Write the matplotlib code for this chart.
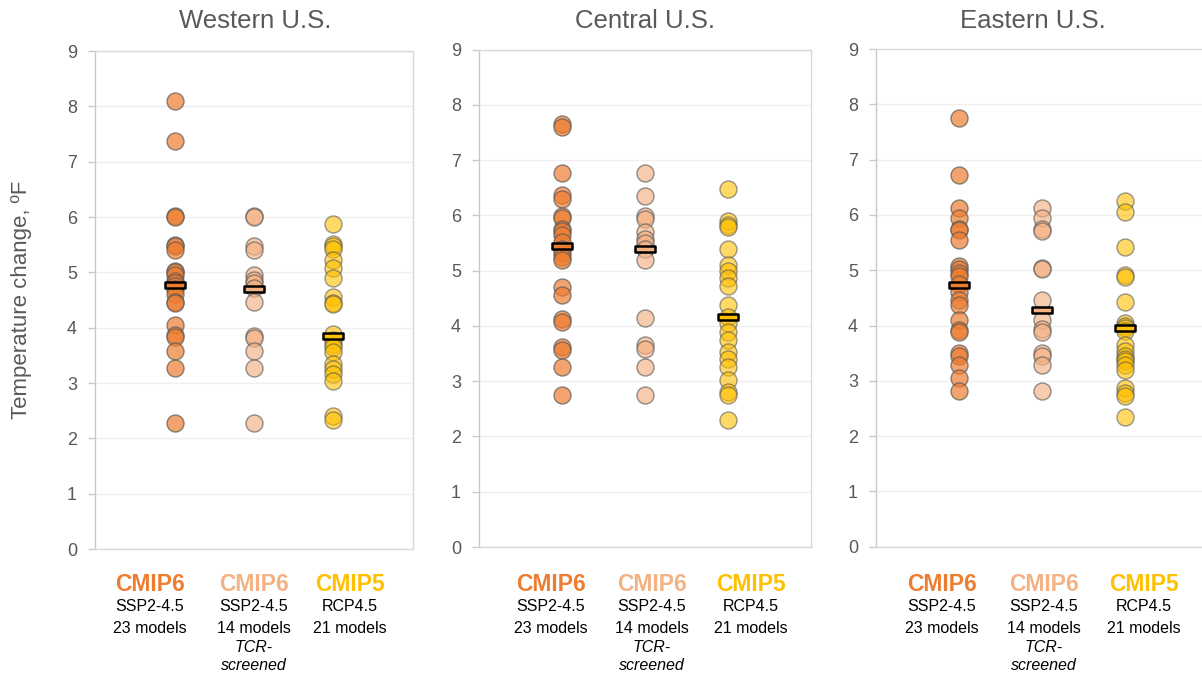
import matplotlib
matplotlib.use("Agg")
import matplotlib.pyplot as plt
from matplotlib.path import Path

plt.rcParams['font.family'] = ['Liberation Sans', 'DejaVu Sans']

regions = ["Western U.S.", "Central U.S.", "Eastern U.S."]
ensembles = ["CMIP6", "CMIP6", "CMIP5"]
scenarios = ["SSP2-4.5", "SSP2-4.5", "RCP4.5"]
model_counts = ["23 models", "14 models", "21 models"]
screen_note = ["", "TCR-\nscreened", ""]

# Projected temperature change (°F) by model
west_cmip6 = [8.10, 7.37, 6.02, 6.00, 5.50, 5.47, 5.40, 5.02, 5.00, 4.95, 4.85, 4.80,
              4.75, 4.70, 4.60, 4.47, 4.45, 4.04, 3.87, 3.83, 3.57, 3.28, 2.27]
west_tcr = [6.02, 6.00, 5.47, 5.41, 4.95, 4.87, 4.80, 4.72, 4.47, 3.85, 3.82, 3.57, 3.28, 2.27]
west_cmip5 = [5.87, 5.51, 5.47, 5.43, 5.22, 5.08, 4.89, 4.55, 4.45, 4.42, 3.89, 3.77,
              3.70, 3.65, 3.56, 3.35, 3.26, 3.17, 3.04, 2.40, 2.33]

central_cmip6 = [7.66, 7.60, 6.77, 6.36, 6.30, 5.98, 5.95, 5.75, 5.71, 5.64, 5.52, 5.40,
                 5.31, 5.25, 5.19, 4.71, 4.55, 4.13, 4.07, 3.62, 3.56, 3.26, 2.75]
central_tcr = [6.77, 6.35, 5.98, 5.94, 5.70, 5.58, 5.50, 5.40, 5.19, 4.14, 3.65, 3.58, 3.26, 2.75]
central_cmip5 = [6.48, 5.89, 5.83, 5.79, 5.39, 5.10, 5.00, 4.86, 4.73, 4.37, 4.16, 4.05,
                 3.89, 3.74, 3.53, 3.40, 3.26, 3.02, 2.81, 2.75, 2.30]

east_cmip6 = [7.75, 6.73, 6.12, 5.94, 5.75, 5.72, 5.55, 5.07, 5.02, 4.95, 4.89, 4.75,
              4.61, 4.46, 4.37, 4.10, 3.92, 3.89, 3.50, 3.44, 3.29, 3.05, 2.81]
east_tcr = [6.12, 5.94, 5.74, 5.71, 5.04, 5.02, 4.46, 4.10, 3.93, 3.89, 3.50, 3.44, 3.29, 2.81]
east_cmip5 = [6.25, 6.06, 5.42, 4.92, 4.88, 4.42, 4.05, 4.00, 3.95, 3.90, 3.65, 3.53,
              3.44, 3.40, 3.35, 3.29, 3.20, 2.87, 2.78, 2.73, 2.34]

# Ensemble mean for each group
west_means = [4.77, 4.69, 3.85]
central_means = [5.45, 5.39, 4.16]
east_means = [4.73, 4.28, 3.95]

y_ticks = [0, 1, 2, 3, 4, 5, 6, 7, 8, 9]

all_values = [[west_cmip6, west_tcr, west_cmip5],
              [central_cmip6, central_tcr, central_cmip5],
              [east_cmip6, east_tcr, east_cmip5]]
all_means = [west_means, central_means, east_means]

point_colors = ["#ED7D31", "#F4B183", "#FFC000"]
point_alpha = [0.70, 0.65, 0.60]
label_colors = ["#ED7D31", "#F4B183", "#FFC000"]

W, H = 1202, 675
fig = plt.figure(figsize=(W / 100, H / 100), dpi=100)

# axes rectangles in pixels: left, top, right, bottom
boxes = [(95, 51, 413, 549), (479, 49.5, 811, 547), (876, 49, 1208, 546.7)]
title_x = [255, 645, 1033]
# horizontal centres (pixels) of the category captions under each panel
caption_x = [[150, 254, 350], [551, 652, 751], [942, 1044, 1144]]

mean_marker = Path([(-1, -0.26), (1, -0.26), (1, 0.26), (-1, 0.26), (-1, -0.26)],
                   [Path.MOVETO, Path.LINETO, Path.LINETO, Path.LINETO, Path.CLOSEPOLY])


def caption(xpix, ypix, text, **kw):
    fig.text(xpix / W, 1 - ypix / H, text, ha='center', va='baseline', **kw)


for i, (l, t, r, b) in enumerate(boxes):
    ax = fig.add_axes([l / W, 1 - b / H, (r - l) / W, (b - t) / H])
    ax.set_xlim(0, 4)
    ax.set_ylim(0, 9)
    ax.set_yticks(y_ticks)
    ax.set_xticks([])
    ax.grid(axis='y', color='#EFEFEF', linewidth=1)
    ax.set_axisbelow(True)
    for side, sp in ax.spines.items():
        sp.set_color('#D9D9D9')
        sp.set_linewidth(1)
    ax.spines['left'].set_color('#C8C8C8')
    ax.tick_params(axis='y', length=5, width=1, color='#C8C8C8', labelsize=13,
                   labelcolor='#595959', pad=8)

    for j in range(3):
        vals = all_values[i][j]
        ax.scatter([j + 1] * len(vals), vals, s=150, color=point_colors[j],
                   alpha=point_alpha[j], edgecolors='#595959', linewidths=1, zorder=3)
        ax.scatter([j + 1], [all_means[i][j]], marker=mean_marker, s=15 ** 2,
                   facecolor=point_colors[j], edgecolors='black', linewidths=1.8, zorder=4)

    for j in range(3):
        cx = caption_x[i][j]
        caption(cx, 591, ensembles[j], fontsize=16.5, fontweight='bold', color=label_colors[j])
        caption(cx, 611, scenarios[j], fontsize=11.5, color='black')
        caption(cx, 633, model_counts[j], fontsize=11.5, color='black')
        if screen_note[j]:
            for k, line in enumerate(screen_note[j].split("\n")):
                caption(cx, 652 + 17.5 * k, line, fontsize=11.5, style='italic', color='black')

    fig.text(title_x[i] / W, 1 - 21 / H, regions[i], ha='center', va='center',
             fontsize=18.5, color='#595959')

fig.text(22 / W, 1 - 300 / H, "Temperature change, ºF", rotation=90, ha='center',
         va='center', fontsize=16, color='#595959')

fig.savefig("out.png", dpi=100)
